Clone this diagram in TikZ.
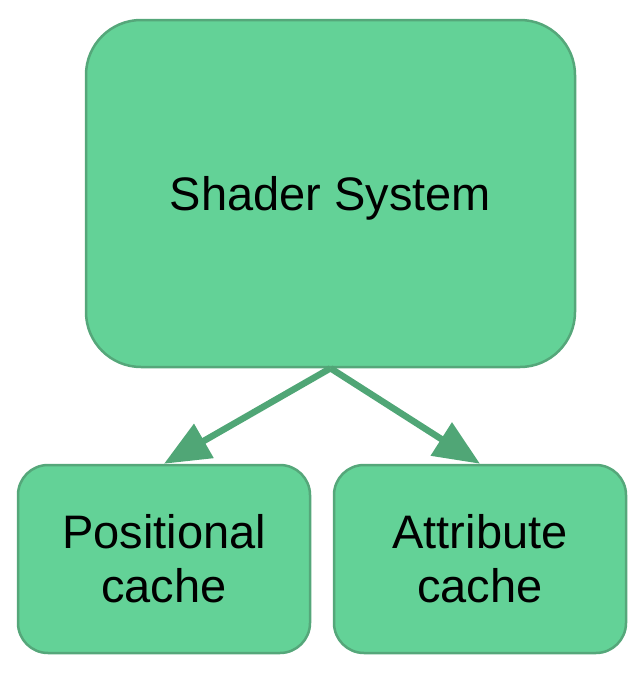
\documentclass[tikz,border=0pt]{standalone}
\usepackage{fontspec}
\setmainfont{Liberation Sans}
\usetikzlibrary{arrows.meta}
\definecolor{boxfill}{HTML}{63D297}
\definecolor{boxline}{HTML}{55A77A}
\definecolor{arrowgreen}{HTML}{50A676}
\tikzset{
    cachebox/.style={draw=boxline, fill=boxfill, line width=2.5pt, rounded corners=30pt,
        minimum width=292pt, minimum height=188pt, align=center,
        font=\fontsize{47}{54}\selectfont},
    link/.style={arrowgreen, line width=6.5pt, -{Triangle[length=46pt, width=38pt]}}
}
\begin{document}
\begin{tikzpicture}[x=1pt, y=-1pt]
    % Canvas
    \useasboundingbox (0,0) rectangle (643,678);

    % Top box
    \node[cachebox, rounded corners=55pt, minimum width=489pt, minimum height=347pt,
        text height=34pt, text depth=0pt]
        (shader) at (330.5,193.5) {Shader System};

    % Caches
    \node[cachebox] (poscache) at (164,559) {Positional\\cache};
    \node[cachebox] (attrcache) at (480,559) {Attribute\\cache};

    % Arrows
    \draw[link] (shader.south) -- (poscache.north);
    \draw[link] (shader.south) -- (attrcache.north);

\end{tikzpicture}
\end{document}
